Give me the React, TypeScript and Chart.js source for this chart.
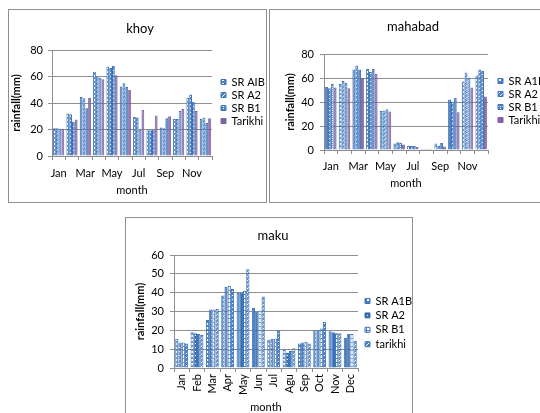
import React, { useEffect, useRef } from 'react';
import { Chart, registerables } from 'chart.js';

Chart.register(...registerables);
Chart.defaults.font.family = "Lato, 'DejaVu Sans', sans-serif";
Chart.defaults.color = '#111';

// ---------- data ----------
const months = ['Jan', 'Feb', 'Mar', 'Apr', 'May', 'Jun', 'Jul', 'Aug', 'Sep', 'Oct', 'Nov', 'Dec'];
const makuMonths = ['Jan', 'Feb', 'Mar', 'Apr', 'May', 'Jun', 'Jul', 'Agu', 'Sep', 'Oct', 'Nov', 'Dec'];

const khoyNames = ['SR AIB', 'SR A2', 'SR B1', 'Tarikhi'];
const khoyA1B = [21, 32, 44.5, 63.5, 67.5, 52.5, 29.5, 19.5, 21.5, 28, 44, 28];
const khoyA2 = [21, 31.5, 43.5, 60, 66.5, 55, 29, 19.5, 21, 28, 46.5, 29];
const khoyB1 = [20.5, 26, 36, 59, 68, 52, 20, 20, 28.5, 34, 41, 25];
const khoyTarikhi = [20.5, 27.5, 44, 58, 61, 50, 35, 30.5, 30, 35.5, 34, 28.5];

const mahabadNames = ['SR A1B', 'SR A2', 'SR B1', 'Tarikhi'];
const mahabadA1B = [52.5, 55, 67, 67.5, 32.5, 5.5, 3.3, 1, 5.5, 42, 57, 62];
const mahabadA2 = [51.5, 57.5, 70.5, 65, 33, 6.5, 3.6, 1, 3.5, 40.5, 64.5, 67];
const mahabadB1 = [55, 56, 67, 67.5, 34, 6, 3.3, 1, 5.8, 43.5, 60.5, 66];
const mahabadTarikhi = [52, 51.5, 60, 63.5, 32, 4.5, 2.5, 0.8, 3, 31.5, 52, 44.5];

const makuNames = ['SR A1B', 'SR A2', 'SR B1', 'tarikhi'];
const makuA1B = [15.5, 19, 25.5, 38.5, 40, 32, 15, 9.5, 13, 20, 19.5, 16];
const makuA2 = [13.5, 18.5, 31, 43, 40, 30, 15.5, 8, 13.5, 20, 19, 18];
const makuB1 = [13.5, 18, 31, 43.5, 41, 30.5, 15.5, 9, 14, 21, 18.5, 18];
const makuTarikhi = [13, 17.5, 31.5, 42, 52.5, 38, 20, 10.5, 13, 24.5, 18.5, 14.5];

// ---------- styles ----------
const BLUE = '#4a7fc1';
const BLUE_EDGE = '#3f74b8';
const PURPLE = '#7f62a3';
const GRID = '#8e8e8e';

function makeFill(kind: string): any {
  if (kind === 'purple') return PURPLE;
  const n = 4;
  const c = document.createElement('canvas');
  c.width = n;
  c.height = n;
  const g = c.getContext('2d')!;
  const px = (x: number, y: number, col: string) => {
    g.fillStyle = col;
    g.fillRect(x, y, 1, 1);
  };
  g.fillStyle = BLUE;
  g.fillRect(0, 0, n, n);
  const W = '#ffffff';
  switch (kind) {
    case 'grid':
      g.fillStyle = W;
      g.fillRect(1, 1, 2, 2);
      break;
    case 'diag':
      for (let i = 0; i < n; i++) px(i, n - 1 - i, W);
      break;
    case 'dots':
      px(0, 0, W);
      px(2, 2, W);
      px(2, 0, W);
      break;
    case 'dark':
      g.fillStyle = '#3d6cab';
      g.fillRect(0, 0, n, n);
      px(1, 1, W);
      break;
    case 'light':
      g.fillStyle = W;
      g.fillRect(0, 0, n, n);
      g.fillStyle = BLUE;
      g.fillRect(0, 0, n, 1);
      g.fillRect(0, 0, 1, n);
      break;
    case 'brick':
      for (let i = 0; i < n; i++) px(i, i, W);
      break;
  }
  return g.createPattern(c, 'repeat');
}

type Cfg = {
  title: string;
  labels: string[];
  names: string[];
  series: number[][];
  fills: string[];
  yMax: number;
  yStep: number;
  every: number;
  rotate: number;
  box: { left: number; top: number; width: number; height: number };
  L: number;
  R: number;
  yWidth: number;
  yTickPad: number;
  yTitlePad: number;
  titlePad: { top: number; bottom: number };
  xHeight: number;
  xTickPad: number;
  xTitlePad: number;
  gap: number;
  legendW: number;
  legendPad: number;
  legendTop: number;
};

const khoyCfg: Cfg = {
  title: 'khoy',
  labels: months,
  names: khoyNames,
  series: [khoyA1B, khoyA2, khoyB1, khoyTarikhi],
  fills: ['grid', 'diag', 'dots', 'purple'],
  yMax: 80,
  yStep: 20,
  every: 2,
  rotate: 0,
  box: { left: 8, top: 9, width: 259, height: 194 },
  L: 5,
  R: 0,
  yWidth: 38,
  yTickPad: 5,
  yTitlePad: -4.6,
  titlePad: { top: 11.2, bottom: 13.2 },
  xHeight: 46,
  xTickPad: 6.4,
  xTitlePad: 5.4,
  gap: 7,
  legendW: 47,
  legendPad: 2,
  legendTop: 24.5,
};

const mahabadCfg: Cfg = {
  title: 'mahabad',
  labels: months,
  names: mahabadNames,
  series: [mahabadA1B, mahabadA2, mahabadB1, mahabadTarikhi],
  fills: ['grid', 'diag', 'dots', 'purple'],
  yMax: 80,
  yStep: 20,
  every: 2,
  rotate: 0,
  box: { left: 269, top: 9, width: 300, height: 194 },
  L: 12,
  R: 24,
  yWidth: 42,
  yTickPad: 6,
  yTitlePad: 1.4,
  titlePad: { top: 9.2, bottom: 19.2 },
  xHeight: 52,
  xTickPad: 5.4,
  xTitlePad: 12.4,
  gap: 8,
  legendW: 48,
  legendPad: 2,
  legendTop: 19.5,
};

const makuCfg: Cfg = {
  title: 'maku',
  labels: makuMonths,
  names: makuNames,
  series: [makuA1B, makuA2, makuB1, makuTarikhi],
  fills: ['grid', 'dark', 'light', 'diag'],
  yMax: 60,
  yStep: 10,
  every: 1,
  rotate: 90,
  box: { left: 125, top: 217, width: 288, height: 200 },
  L: 8,
  R: 0,
  yWidth: 40,
  yTickPad: 6,
  yTitlePad: -0.6,
  titlePad: { top: 10.2, bottom: 11.2 },
  xHeight: 48,
  xTickPad: 2,
  xTitlePad: 2.4,
  gap: 3.6,
  legendW: 50.4,
  legendPad: 3.4,
  legendTop: 37.1,
};

function Panel({ cfg }: { cfg: Cfg }) {
  const ref = useRef<HTMLCanvasElement>(null);
  const w = cfg.box.width - 2;
  const h = cfg.box.height - 2;

  useEffect(() => {
    const canvas = ref.current!;
    const datasets = cfg.series.map((data, i) => {
      const fill = makeFill(cfg.fills[i]);
      const edge = cfg.fills[i] === 'purple' ? PURPLE : BLUE_EDGE;
      return {
        label: cfg.names[i],
        data,
        backgroundColor: fill,
        borderColor: edge,
        borderWidth: 1,
        categoryPercentage: 0.84,
        barPercentage: 1,
        xAxisID: 'x',
        yAxisID: 'y',
      };
    });
    const chart = new Chart(canvas, {
      type: 'bar',
      data: { labels: cfg.labels, datasets },
      options: {
        responsive: false,
        animation: false,
        devicePixelRatio: 1,
        layout: { padding: { left: cfg.L, right: cfg.R, top: 0, bottom: 0 } },
        plugins: {
          tooltip: { enabled: false },
          title: {
            display: true,
            text: cfg.title,
            color: '#000',
            font: { size: 13, weight: 'normal' },
            padding: cfg.titlePad,
          },
          legend: {
            position: 'right',
            align: 'start',
            fullSize: false,
            maxWidth: cfg.legendW,
            title: {
              display: true,
              text: '',
              font: { size: 1 },
              padding: { top: cfg.legendTop - 1.2, bottom: 0 },
            },
            labels: {
              boxWidth: 5,
              boxHeight: 5,
              padding: cfg.legendPad,
              color: '#000',
              font: { size: 11 },
            },
          },
        },
        scales: {
          x: {
            type: 'category',
            position: 'bottom',
            grid: {
              display: true,
              drawOnChartArea: false,
              drawTicks: true,
              tickLength: 4,
              color: GRID,
              offset: true,
            },
            border: { display: true, color: GRID },
            ticks: {
              autoSkip: false,
              minRotation: cfg.rotate,
              maxRotation: cfg.rotate,
              padding: cfg.xTickPad,
              color: '#000',
              font: { size: 11 },
              callback: function (this: any, v: any, i: number) {
                return i % cfg.every === 0 ? this.getLabelForValue(v) : '';
              },
            },
            title: {
              display: true,
              text: 'month',
              color: '#000',
              font: { size: 11 },
              padding: { top: 0, bottom: cfg.xTitlePad },
            },
            afterFit: (s: any) => {
              s.height = cfg.xHeight;
            },
          },
          y: {
            type: 'linear',
            position: 'left',
            min: 0,
            max: cfg.yMax,
            ticks: {
              stepSize: cfg.yStep,
              padding: cfg.yTickPad,
              color: '#000',
              font: { size: 11 },
            },
            grid: { color: GRID, lineWidth: 1, drawTicks: true, tickLength: 4 },
            border: { display: true, color: GRID },
            title: {
              display: true,
              text: 'rainfall(mm)',
              color: '#000',
              font: { size: 11, weight: 'bold' },
              padding: { top: cfg.yTitlePad, bottom: 0 },
            },
            afterFit: (s: any) => {
              s.width = cfg.yWidth;
            },
          },
          gap: {
            type: 'linear',
            position: 'right',
            display: true,
            grid: { display: false, drawTicks: false },
            border: { display: false },
            ticks: { display: false },
            afterFit: (s: any) => {
              s.width = cfg.gap;
            },
          },
        },
      } as any,
    });
    return () => chart.destroy();
  }, []);

  return (
    <div
      style={{
        position: 'absolute',
        left: cfg.box.left,
        top: cfg.box.top,
        width: cfg.box.width,
        height: cfg.box.height,
        border: '1px solid #8e8e8e',
        boxSizing: 'border-box',
        background: '#fff',
      }}
    >
      <canvas ref={ref} width={w} height={h} style={{ display: 'block', width: w, height: h }} />
    </div>
  );
}

export default function App() {
  return (
    <div
      style={{
        position: 'absolute',
        left: 0,
        top: 0,
        width: 540,
        height: 413,
        overflow: 'hidden',
        background: '#fff',
      }}
    >
      <Panel cfg={khoyCfg} />
      <Panel cfg={mahabadCfg} />
      <Panel cfg={makuCfg} />
    </div>
  );
}
